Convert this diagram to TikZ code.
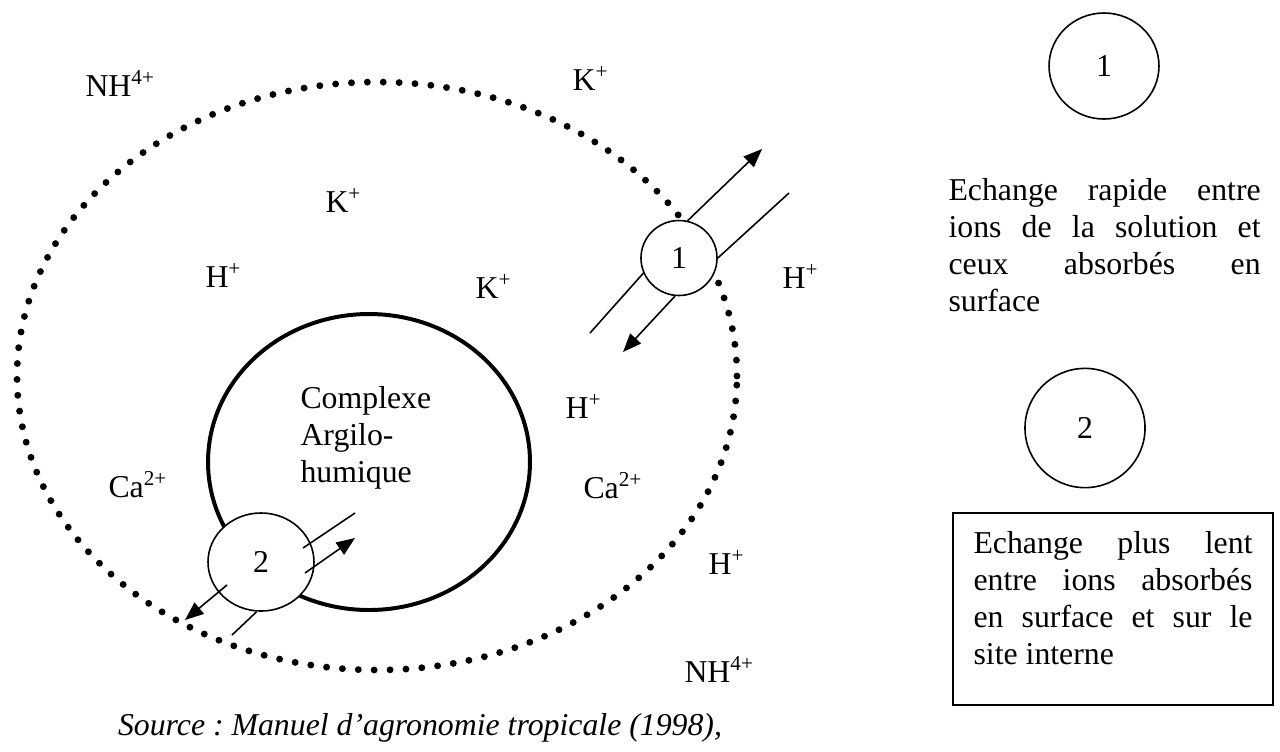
\documentclass[tikz,border=0pt]{standalone}
\usepackage{fontspec}
\setmainfont{Liberation Serif}
\usetikzlibrary{arrows.meta,shapes.geometric}
\frenchspacing

\tikzset{
  txt/.style={anchor=base west, inner sep=0pt, font=\fontsize{12}{13.9}\selectfont},
  bulle/.style={draw, ellipse, fill=white, line width=0.6pt, inner sep=0pt,
                font=\fontsize{12}{13.9}\selectfont},
  fleche/.style={-{Triangle[length=7pt,width=5.5pt]}, line width=0.6pt},
  trait/.style={line width=0.6pt},
}

\begin{document}
\begin{tikzpicture}[x=0.3774pt, y=-0.3774pt]
    \useasboundingbox (0,0) rectangle (1280,751);

    % solution du sol (pointilles) et complexe
    \node[ellipse, draw, line width=2.6pt, line cap=round, dash pattern=on 0pt off 6pt,
          minimum width=271.7pt, minimum height=221.9pt, inner sep=0pt] (sol) at (377,376) {};
    \node[ellipse, draw, line width=1.5pt, minimum width=121.5pt, minimum height=111.7pt,
          inner sep=0pt] (cplx) at (369,462) {};
    \node[txt, anchor=north west, align=left] (cplxtxt) at (300,386) {Complexe\\Argilo-\\humique};

    % echanges 1 et 2
    \node[bulle, minimum width=40pt, minimum height=37pt] (ech2) at (261,562) {2};
    \node[bulle, minimum width=28.7pt, minimum height=28.3pt] (ech1) at (679,258) {1};

    \coordinate (e1out) at (762,149);
    \coordinate (e1haut) at (789,193);
    \coordinate (e1bas) at (590,333);
    \coordinate (e1in) at (623,352);
    \draw[fleche] (ech1.77) -- (e1out);
    \draw[trait] (ech1.0) -- (e1haut);
    \draw[trait] (ech1.-157) -- (e1bas);
    \draw[fleche] (ech1.-96) -- (e1in);

    \coordinate (e2a) at (303,548);
    \coordinate (e2b) at (355,513);
    \coordinate (e2c) at (305,573);
    \coordinate (e2d) at (355,538);
    \coordinate (e2e) at (227,585);
    \coordinate (e2f) at (185,620);
    \coordinate (e2g) at (232,635);
    \draw[trait] (e2a) -- (e2b);
    \draw[fleche] (e2c) -- (e2d);
    \draw[fleche] (e2e) -- (e2f);
    \draw[trait] (ech2.-95) -- (e2g);

    % ions
    \node[txt] (nh1) at (85,96) {NH\textsuperscript{4+}};
    \node[txt] (k1) at (572,90) {K\textsuperscript{+}};
    \node[txt] (k2) at (325,212) {K\textsuperscript{+}};
    \node[txt] (h1) at (205,287) {H\textsuperscript{+}};
    \node[txt] (k3) at (475,298) {K\textsuperscript{+}};
    \node[txt] (h2) at (782,288) {H\textsuperscript{+}};
    \node[txt] (h3) at (565,418) {H\textsuperscript{+}};
    \node[txt] (ca1) at (108,497) {Ca\textsuperscript{2+}};
    \node[txt] (ca2) at (583,498) {Ca\textsuperscript{2+}};
    \node[txt] (h4) at (708,574) {H\textsuperscript{+}};
    \node[txt] (nh2) at (684,682) {NH\textsuperscript{4+}};

    \node[txt, anchor=base] (source) at (420,735) {\itshape Source : Manuel d’agronomie tropicale (1998),};

    % legende
    \node[bulle, minimum width=41.5pt, minimum height=40pt] (leg1) at (1104,66) {1};
    \node[txt, anchor=north west, align=left] (leg1txt) at (948,178) {%
      \makebox[117.8pt][s]{Echange rapide entre}\\
      \makebox[117.8pt][s]{ions de la solution et}\\
      \makebox[117.8pt][s]{ceux absorbés en}\\
      surface};
    \node[bulle, minimum width=45.3pt, minimum height=45pt] (leg2) at (1085,428) {2};
    \node[draw, line width=0.8pt, minimum width=120.8pt, minimum height=72.5pt, inner sep=0pt] (boite) at (1113,609) {};
    \node[txt, anchor=north west, align=left] (leg2txt) at (973,531) {%
      \makebox[105.3pt][s]{Echange plus lent}\\
      \makebox[105.3pt][s]{entre ions absorbés}\\
      \makebox[105.3pt][s]{en surface et sur le}\\
      site interne};
\end{tikzpicture}
\end{document}
